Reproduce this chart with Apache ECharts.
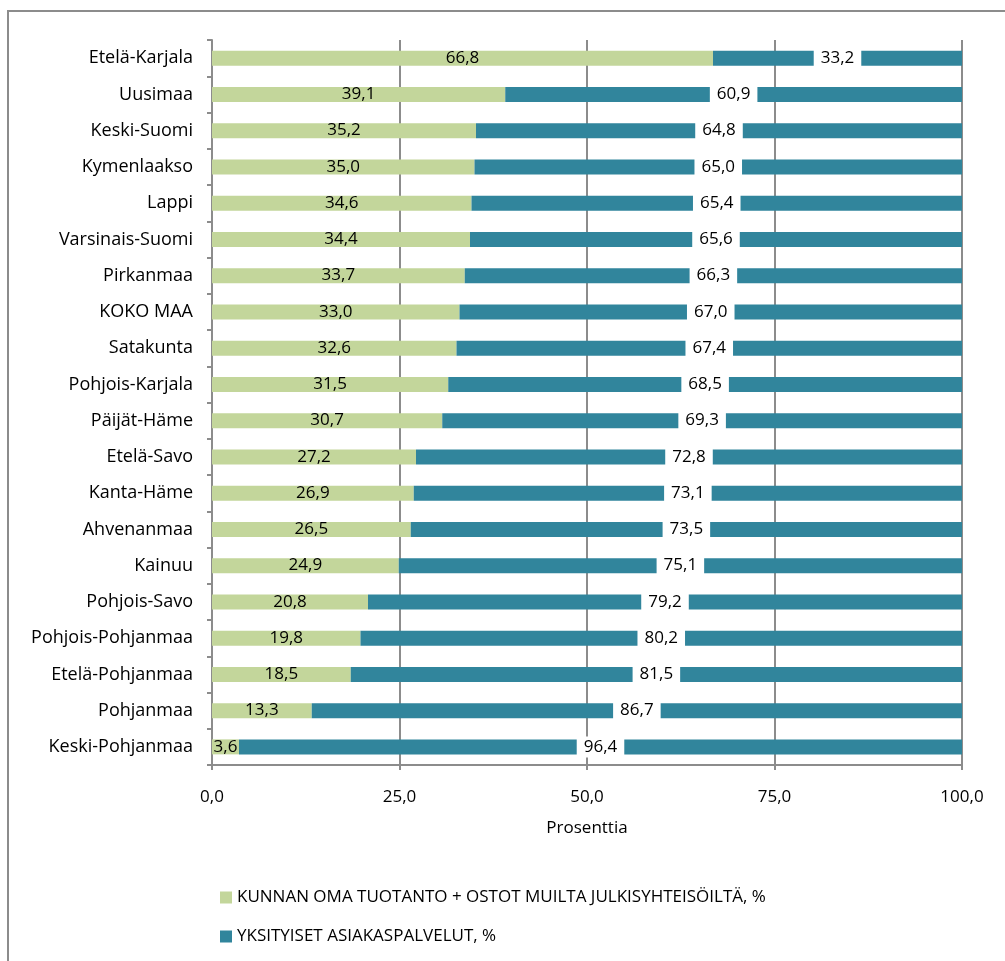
<!DOCTYPE html>
<html>
<head>
<meta charset="utf-8">
<script src="https://cdn.jsdelivr.net/npm/echarts@6/dist/echarts.min.js"></script>
<style>
html,body{margin:0;padding:0;background:#fff;}
#chart{width:1005px;height:961px;}
</style>
</head>
<body>
<div id="chart"></div>
<script>
const categories = ["Etelä-Karjala","Uusimaa","Keski-Suomi","Kymenlaakso","Lappi","Varsinais-Suomi","Pirkanmaa","KOKO MAA","Satakunta","Pohjois-Karjala","Päijät-Häme","Etelä-Savo","Kanta-Häme","Ahvenanmaa","Kainuu","Pohjois-Savo","Pohjois-Pohjanmaa","Etelä-Pohjanmaa","Pohjanmaa","Keski-Pohjanmaa"];
const kunnanOma = [66.8,39.1,35.2,35.0,34.6,34.4,33.7,33.0,32.6,31.5,30.7,27.2,26.9,26.5,24.9,20.8,19.8,18.5,13.3,3.6];
const yksityiset = [33.2,60.9,64.8,65.0,65.4,65.6,66.3,67.0,67.4,68.5,69.3,72.8,73.1,73.5,75.1,79.2,80.2,81.5,86.7,96.4];
const seriesNames = ["KUNNAN OMA TUOTANTO + OSTOT MUILTA JULKISYHTEISÖILTÄ, %","YKSITYISET ASIAKASPALVELUT, %"];
const axisName = "Prosenttia";

const FONT = "Open Sans";
const FS = 17;
const fmt = v => Number(v).toFixed(1).replace('.', ',');
const chart = echarts.init(document.getElementById('chart'));
chart.setOption({
  animation: false,
  textStyle: {fontFamily: FONT},
  graphic: [
    {type:'polyline', shape:{points:[[8,961],[8,11],[1005,11]]}, style:{stroke:'#8c8c8c', lineWidth:2, fill:null}}
  ],
  grid: {left:212, right:43, top:40, bottom:196, containLabel:false},
  legend: {
    orient:'vertical', left:215, top:884, itemGap:22, itemWidth:12, itemHeight:12,
    icon:'rect',
    textStyle:{fontFamily:FONT, fontSize:FS, color:'#000'},
    data: seriesNames
  },
  xAxis: {
    type:'value', min:0, max:100, interval:25,
    name: axisName, nameLocation:'middle', nameGap:55,
    nameTextStyle:{fontFamily:FONT, fontSize:FS, color:'#000'},
    axisLine:{show:true, lineStyle:{color:'#8c8c8c', width:2}},
    axisTick:{show:true, length:5, lineStyle:{color:'#8c8c8c', width:2}},
    axisLabel:{formatter:fmt, fontFamily:FONT, fontSize:FS, color:'#000', margin:24},
    splitLine:{show:true, lineStyle:{color:'#8c8c8c', width:2}}
  },
  yAxis: {
    type:'category', data:categories, inverse:true,
    axisLine:{show:true, lineStyle:{color:'#8c8c8c', width:2}},
    axisTick:{show:true, length:5, lineStyle:{color:'#8c8c8c', width:2}},
    axisLabel:{fontFamily:FONT, fontSize:18, color:'#000', margin:19}
  },
  series: [
    {name:seriesNames[0], type:'bar', stack:'s', data:kunnanOma, barWidth:15,
     itemStyle:{color:'#c3d69b'},
     label:{show:true, position:'inside', formatter:p=>fmt(p.value), color:'#000', fontFamily:FONT, fontSize:FS}},
    {name:seriesNames[1], type:'bar', stack:'s', data:yksityiset, barWidth:15,
     itemStyle:{color:'#31859c'},
     label:{show:true, position:'inside', formatter:p=>fmt(p.value), color:'#000', fontFamily:FONT, fontSize:FS,
            backgroundColor:'#fff', padding:[2,7,2,7]}}
  ]
});
</script>
</body>
</html>
